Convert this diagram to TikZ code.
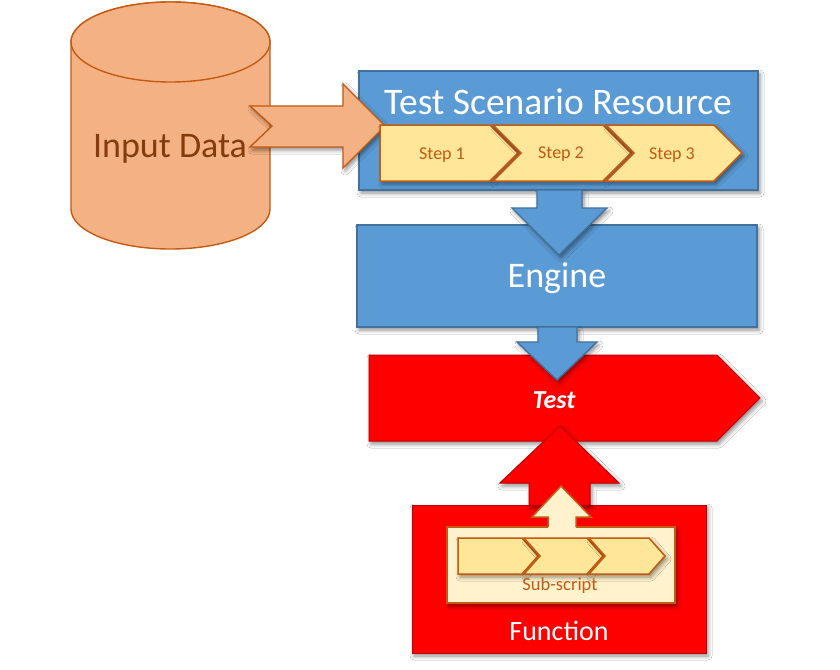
\documentclass[tikz,border=0pt]{standalone}
\usepackage{fontspec}
\setmainfont{Carlito}
\usetikzlibrary{shadows.blur}
\definecolor{orfill}{HTML}{F4B183}
\definecolor{orline}{HTML}{C55A11}
\definecolor{darkbrown}{HTML}{843C0C}
\definecolor{bluefill}{HTML}{5B9BD5}
\definecolor{blueline}{HTML}{41719C}
\definecolor{stepfill}{HTML}{FFE699}
\definecolor{subfill}{HTML}{FFF2CC}
\definecolor{redfill}{HTML}{FF0000}
\definecolor{redline}{HTML}{C00000}
\tikzset{
  shd/.style={blur shadow={shadow xshift=2pt,shadow yshift=-3pt,shadow blur radius=4pt,shadow opacity=45}},
  orangeshape/.style={fill=orfill,draw=orline,line width=1.4pt,line join=miter},
  blueshape/.style={fill=bluefill,draw=blueline,line width=1.4pt,line join=miter,shd},
  redshape/.style={fill=redfill,draw=redline,line width=1pt,line join=miter,shd},
  stepshape/.style={fill=stepfill,draw=orline,line width=1.5pt,line join=miter,shd},
  subshape/.style={fill=subfill,draw=orline,line width=1.5pt,line join=miter},
  bigtext/.style={font=\fontsize{36}{40}\selectfont,text=white},
  steptext/.style={font=\fontsize{18}{20}\selectfont,text=orline},
}
\begin{document}
\begin{tikzpicture}[x=1pt,y=-1pt]
\useasboundingbox[fill=white] (0,0) rectangle (840,669);

% cylinder
\path[orangeshape] (71,42) -- (71,209) arc[start angle=180,end angle=360,x radius=99.5pt,y radius=40pt]
  -- (270,42) arc[start angle=0,end angle=180,x radius=99.5pt,y radius=40pt] -- cycle;
\path[orangeshape] (170.5,42) ellipse[x radius=99.5pt,y radius=40pt];
\node[font=\fontsize{36}{40}\selectfont,text=darkbrown] (input) at (170,149) {Input Data};

% Test Scenario Resource box
\path[blueshape] (359,71) rectangle (758,190);
\node[font=\fontsize{37.5}{42}\selectfont,text=white] (tsr) at (558,102) {Test Scenario Resource};

% orange arrow
\path[orangeshape,shd] (250,106) -- (343,106) -- (343,84) -- (385,126) -- (343,168) -- (343,147) -- (250,147) -- (272,126) -- cycle;

% steps
\path[stepshape] (380,125) -- (490,125) -- (518,153) -- (490,181) -- (380,181) -- cycle;
\path[stepshape] (493,125) -- (603,125) -- (631,153) -- (603,181) -- (493,181) -- (521,153) -- cycle;
\path[stepshape] (606,125) -- (714,125) -- (742,153) -- (714,181) -- (606,181) -- (634,153) -- cycle;
\node[steptext] (s1) at (442,155) {Step 1};
\node[steptext] (s2) at (561,154) {Step 2};
\node[steptext] (s3) at (672,155) {Step 3};

% Engine
\path[blueshape] (357,225) rectangle (757,327);
\node[bigtext] (engine) at (557,278) {Engine};
\path[blueshape] (537,190) -- (582,190) -- (582,208) -- (607,208) -- (559,255) -- (512,208) -- (537,208) -- cycle;

% Test
\path[redshape] (369,355) -- (717,355) -- (760,398) -- (717,441) -- (369,441) -- cycle;
\node[font=\fontsize{26}{30}\selectfont\bfseries\itshape,text=white] (test) at (554,400) {Test};
\path[blueshape] (538,327) -- (577,327) -- (577,342) -- (597,342) -- (557,380) -- (517,342) -- (538,342) -- cycle;

% Function
\path[redshape] (412,505) rectangle (706,653);
\node[font=\fontsize{28}{32}\selectfont,text=white] (function) at (559,631) {Function};
\path[redshape] (529,505) -- (529,483) -- (500,483) -- (560,426) -- (619,483) -- (590,483) -- (590,505) -- cycle;

% Sub-script
\path[subshape,shd] (447,527) rectangle (675,603);
\fill[subfill] (548,529) -- (548,517) -- (532,517) -- (561,486) -- (591,517) -- (576,517) -- (576,529) -- cycle;
\draw[orline,line width=1.5pt,line join=miter] (548,527) -- (548,517) -- (532,517) -- (561,486) -- (591,517) -- (576,517) -- (576,527);
\path[stepshape] (458,538) -- (522,538) -- (538,556) -- (522,574) -- (458,574) -- cycle;
\path[stepshape] (524,538) -- (587,538) -- (603,556) -- (587,574) -- (524,574) -- (540,556) -- cycle;
\path[stepshape] (589,538) -- (649,538) -- (665,556) -- (649,574) -- (589,574) -- (605,556) -- cycle;
\node[font=\fontsize{18.5}{21}\selectfont,text=orline] (sub) at (560,586) {Sub-script};
\end{tikzpicture}
\end{document}
